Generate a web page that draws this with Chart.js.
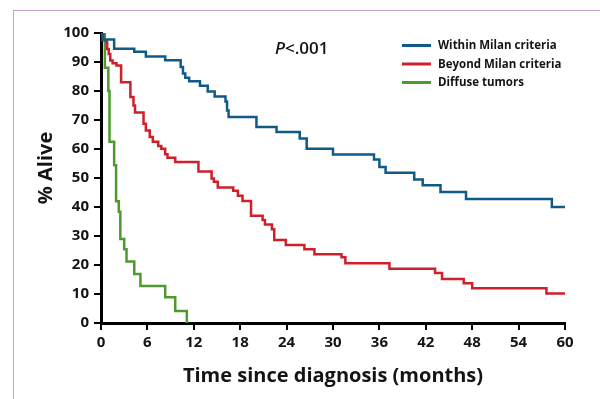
<!DOCTYPE html>
<html>
<head>
<meta charset="utf-8">
<title>Survival by Milan criteria</title>
<script src="https://cdn.jsdelivr.net/npm/chart.js@4/dist/chart.umd.min.js"></script>
<style>
  html, body { margin: 0; padding: 0; background: #fff; overflow: hidden; }
  .wrap { position: relative; width: 600px; height: 399px; }
  .frame {
    position: absolute; left: 13px; top: 10px;
    width: 700px; height: 500px;
    border: 1px solid #c9a3cd;
  }
  canvas { position: absolute; left: 0; top: 0; }
</style>
</head>
<body>
<div class="wrap">
  <div class="frame"></div>
  <canvas id="kmChart" width="600" height="399"></canvas>
</div>
<script>
// ==========================
// DATA
// ==========================
const seriesNames = ["Within Milan criteria", "Beyond Milan criteria", "Diffuse tumors"];
const seriesColors = ["#0f5a86", "#cf1f2b", "#4d9a2e"];

const xTicks = [0, 6, 12, 18, 24, 30, 36, 42, 48, 54, 60];
const yTicks = [0, 10, 20, 30, 40, 50, 60, 70, 80, 90, 100];

const xTitle = "Time since diagnosis (months)";
const yTitle = "% Alive";
const pValue = "<.001";

// Kaplan-Meier steps: month of drop, % alive after the drop
const withinMonths = [0, 0.3, 1.7, 4.3, 5.8, 8.3, 10.3, 10.6, 10.9, 11.4, 12.8, 13.8, 14.7, 16.1, 16.3, 16.5, 20.1, 22.7, 25.7, 26.6, 30.0, 35.3, 36.0, 36.8, 40.5, 41.6, 43.9, 47.2, 58.3, 60];
const withinAlive = [100, 97.8, 94.6, 93.5, 91.9, 90.6, 88.3, 86.0, 84.6, 83.4, 81.8, 79.8, 78.1, 76.4, 73.3, 71.0, 67.6, 65.9, 63.6, 60.1, 58.1, 56.4, 53.8, 51.8, 49.5, 47.5, 45.2, 42.8, 40.0, 40.0];

const beyondMonths = [0, 0.2, 0.7, 0.8, 1.0, 1.2, 1.5, 2.0, 2.6, 3.8, 4.2, 4.4, 5.5, 5.8, 6.3, 6.7, 7.4, 7.8, 8.3, 8.6, 9.6, 12.6, 14.3, 14.6, 15.1, 17.1, 17.7, 18.3, 19.4, 20.9, 21.2, 22.1, 22.4, 23.9, 26.3, 27.6, 31.1, 31.6, 37.3, 43.2, 44.1, 46.9, 48.0, 57.6, 60];
const beyondAlive = [100, 97.5, 96.8, 94.5, 92.8, 90.5, 89.6, 88.8, 83.0, 77.9, 75.0, 72.6, 68.7, 66.4, 64.1, 62.5, 61.0, 60.1, 58.2, 57.0, 55.5, 52.2, 49.8, 48.7, 46.7, 45.6, 43.9, 42.1, 37.0, 35.5, 34.0, 32.3, 28.6, 26.9, 25.4, 23.7, 22.7, 20.6, 18.7, 17.2, 15.2, 13.7, 12.0, 10.2, 10.2];

const diffuseMonths = [0, 0.5, 0.95, 1.1, 1.7, 1.95, 2.3, 2.5, 3.0, 3.3, 4.3, 5.1, 8.3, 9.6, 11.1];
const diffuseAlive = [100, 88.0, 80.0, 62.5, 54.4, 42.0, 38.4, 29.0, 25.4, 21.2, 16.9, 12.8, 8.9, 4.1, 0];

// ==========================
// HELPERS
// ==========================
const toPoints = (months, alive) => months.map((m, i) => ({ x: m, y: alive[i] }));

const tickFont = { family: "'Open Sans', sans-serif", size: 15, weight: "bold" };
const inkColor = "#141414";

// ==========================
// TEXT OVERLAY: y title, P value, legend
// ==========================
const overlay = {
    id: "overlay",
    afterDraw(chart) {
        const ctx = chart.ctx;
        ctx.save();
        ctx.fillStyle = inkColor;

        // y axis title
        ctx.save();
        ctx.translate(46, 168);
        ctx.rotate(-Math.PI / 2);
        ctx.font = "bold 20px 'Open Sans'";
        ctx.textAlign = "center";
        ctx.textBaseline = "middle";
        ctx.fillText(yTitle, 0, 0);
        ctx.restore();

        // P value
        ctx.textAlign = "left";
        ctx.textBaseline = "alphabetic";
        ctx.font = "italic 600 17px 'Open Sans'";
        ctx.fillText("P", 275, 54);
        const pw = ctx.measureText("P").width;
        ctx.font = "600 17px 'Open Sans'";
        ctx.fillText(pValue, 275 + pw, 54);

        // legend
        ctx.font = "bold 11.5px 'Open Sans'";
        ctx.textBaseline = "middle";
        chart.data.datasets.forEach((ds, i) => {
            const y = 45.5 + i * 18.5;
            ctx.strokeStyle = ds.borderColor;
            ctx.lineWidth = 3;
            ctx.beginPath();
            ctx.moveTo(402, y);
            ctx.lineTo(431, y);
            ctx.stroke();
            ctx.fillStyle = inkColor;
            ctx.fillText(ds.label, 438, y + 0.5);
        });
        ctx.restore();
    }
};

// ==========================
// CHART
// ==========================
const series = [
    toPoints(withinMonths, withinAlive),
    toPoints(beyondMonths, beyondAlive),
    toPoints(diffuseMonths, diffuseAlive)
];

new Chart(document.getElementById("kmChart"), {
    type: "line",
    data: {
        datasets: series.map((pts, i) => ({
            label: seriesNames[i],
            data: pts,
            borderColor: seriesColors[i],
            backgroundColor: seriesColors[i],
            borderWidth: 2.5,
            stepped: "before",
            pointRadius: 0,
            fill: false
        }))
    },
    options: {
        responsive: false,
        animation: false,
        layout: { padding: { top: 33, right: 35, left: 0, bottom: 0 } },
        plugins: {
            legend: { display: false },
            tooltip: { enabled: false }
        },
        scales: {
            x: {
                type: "linear",
                min: 0,
                max: 60,
                afterBuildTicks: s => { s.ticks = xTicks.map(v => ({ value: v })); },
                afterFit: s => { s.height = 76; },
                border: { color: "#000", width: 3 },
                grid: { drawOnChartArea: false, color: "#000", lineWidth: 2, tickLength: 7 },
                ticks: { color: inkColor, font: tickFont, padding: 4, maxRotation: 0 },
                title: {
                    display: true,
                    text: xTitle,
                    color: inkColor,
                    font: { family: "'Open Sans', sans-serif", size: 20, weight: "bold" },
                    padding: { top: 0, bottom: 11 }
                }
            },
            y: {
                min: 0,
                max: 100,
                afterBuildTicks: s => { s.ticks = yTicks.map(v => ({ value: v })); },
                afterFit: s => { s.width = 101; },
                border: { color: "#000", width: 3 },
                grid: { drawOnChartArea: false, color: "#000", lineWidth: 2, tickLength: 7 },
                ticks: { color: inkColor, font: tickFont, padding: 5 }
            }
        }
    },
    plugins: [overlay]
});
</script>
</body>
</html>
